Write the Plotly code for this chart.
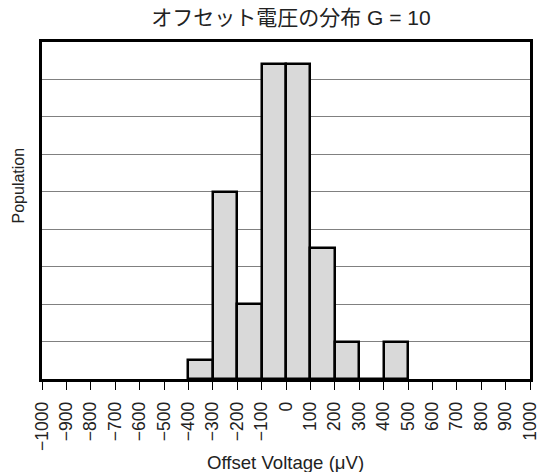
import plotly.graph_objects as go

bin_starts = [-400, -300, -200, -100, 0, 100, 200, 300, 400]
bin_width = 100
population = [0.5, 5, 2, 8.4, 8.4, 3.5, 1, 0, 1]
tick_vals = list(range(-1000, 1001, 100))
tick_text = [str(v).replace("-", "\u2212") for v in tick_vals]

centers = [s + bin_width / 2 for s in bin_starts]

W, H = 547, 472
L, R, T, B = 42, 7, 42, 93
pw, ph = W - L - R, H - T - B

fig = go.Figure()
fig.add_trace(go.Bar(
    x=centers, y=population, width=[bin_width] * len(centers),
    marker=dict(color="#d9d9d9", line=dict(color="black", width=2.5)),
))

fig.update_layout(
    width=W, height=H,
    margin=dict(l=L, r=R, t=T, b=B),
    paper_bgcolor="white", plot_bgcolor="white",
    showlegend=False,
    font=dict(family="Liberation Sans, Noto Sans CJK JP, Arial", color="#222"),
    title=dict(text="オフセット電圧の分布 G = 10", xref="paper", x=0.5 + 5 / pw, xanchor="center",
               yref="container", y=1 - 18 / H, yanchor="middle",
               font=dict(size=21, family="Liberation Sans, Noto Sans CJK JP", color="#222")),
    bargap=0,
    annotations=[
        dict(text="Offset Voltage (\u03bcV)", xref="paper", yref="paper",
             x=0.5 - 1 / pw, y=-(462 - (T + ph)) / ph, xanchor="center", yanchor="middle",
             showarrow=False, font=dict(size=18.6, color="#222")),
        dict(text="Population", xref="paper", yref="paper", textangle=-90,
             x=-(L - 18) / pw, y=1 - (185 - T) / ph, xanchor="center", yanchor="middle",
             showarrow=False, font=dict(size=16, color="#222")),
    ],
)
fig.update_xaxes(
    range=[-1000, 1000], tickmode="array", tickvals=tick_vals, ticktext=tick_text,
    tickangle=-90, ticks="outside", ticklen=8, tickcolor="black", tickwidth=1,
    ticklabelstandoff=5,
    showgrid=False, zeroline=False,
    showline=True, linecolor="black", linewidth=2.5, mirror=True,
    tickfont=dict(size=17.5, color="#222"),
)
fig.update_yaxes(
    range=[0, 9], dtick=1, showticklabels=False, ticks="",
    showgrid=True, gridcolor="#808080", gridwidth=1, zeroline=False,
    showline=True, linecolor="black", linewidth=2.5, mirror=True,
)

fig.write_html("out.html")
